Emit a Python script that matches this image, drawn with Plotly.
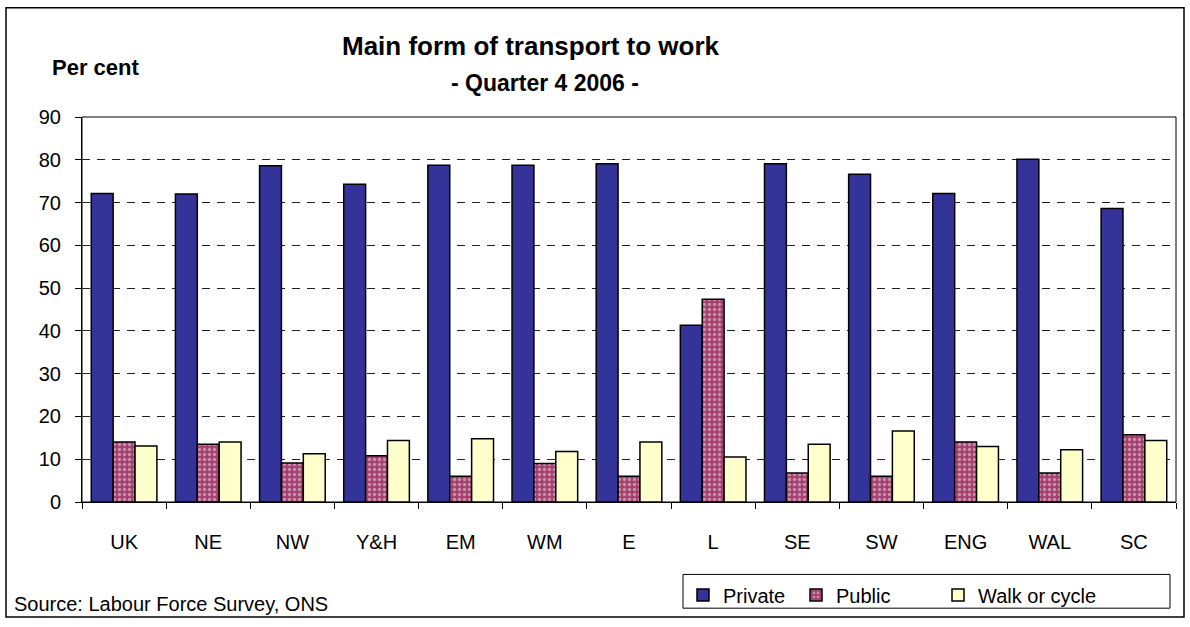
import plotly.graph_objects as go

# Main form of transport to work by region, Q4 2006 (per cent)
regions = ["UK", "NE", "NW", "Y&H", "EM", "WM", "E", "L", "SE", "SW", "ENG", "WAL", "SC"]
private = [72.1, 72.0, 78.6, 74.3, 78.7, 78.7, 79.1, 41.3, 79.1, 76.6, 72.1, 80.1, 68.6]
public = [14.0, 13.5, 9.1, 10.8, 6.0, 9.0, 6.0, 47.4, 6.8, 6.0, 14.0, 6.8, 15.7]
walk_cycle = [13.1, 14.0, 11.3, 14.4, 14.8, 11.8, 14.0, 10.5, 13.5, 16.6, 13.0, 12.2, 14.4]

FONT = "Liberation Sans, Arial, sans-serif"
W, H = 1190, 627
L, R, T, B = 82, 14, 117, 122
PW, PH = W - L - R, H - T - B


def px_x(x):
    return (x - L) / PW


def px_y(y):
    return (H - B - y) / PH


outline = dict(color="black", width=1.5)

fig = go.Figure()
fig.add_trace(go.Bar(
    name="Private", x=regions, y=private, legend="legend",
    marker=dict(color="#333399", line=outline),
))
fig.add_trace(go.Bar(
    name="Public", x=regions, y=public, legend="legend2",
    marker=dict(color="#993366", line=outline,
                pattern=dict(shape=".", fgcolor="#f4dce8", bgcolor="#a3416f",
                             size=5, solidity=0.35)),
))
fig.add_trace(go.Bar(
    name="Walk or cycle", x=regions, y=walk_cycle, legend="legend3",
    marker=dict(color="#FFFFCC", line=outline),
))


def legend_at(x_left):
    return dict(
        orientation="h", x=px_x(x_left), y=px_y(579),
        xanchor="left", yanchor="top",
        borderwidth=0, bgcolor="rgba(0,0,0,0)",
        font=dict(size=20), itemwidth=30,
    )


fig.update_layout(
    width=W, height=H,
    margin=dict(l=L, r=R, t=T, b=B),
    paper_bgcolor="white", plot_bgcolor="white",
    font=dict(family=FONT, color="black", size=19),
    barmode="group", bargap=0.22, bargroupgap=0,
    showlegend=True,
    legend=legend_at(683),
    legend2=legend_at(796),
    legend3=legend_at(938),
    xaxis=dict(
        showline=True, linecolor="black", linewidth=1,
        ticks="outside", tickson="boundaries", ticklen=6, tickcolor="black",
        tickfont=dict(size=20), ticklabelstandoff=22,
        showgrid=False,
    ),
    yaxis=dict(
        range=[0, 90], dtick=10,
        showline=True, linecolor="black", linewidth=1,
        ticks="outside", ticklen=6, tickcolor="black",
        tickfont=dict(size=20), ticklabelstandoff=10,
        showgrid=True, gridcolor="#222222", gridwidth=1, griddash="8px,7px",
        zeroline=False,
    ),
    shapes=[
        # plot-area frame
        dict(type="rect", xref="paper", yref="paper", x0=0, x1=1, y0=0, y1=1,
             line=dict(color="black", width=1), layer="below"),
        # outer chart frame
        dict(type="rect", xref="paper", yref="paper",
             x0=px_x(6), x1=px_x(1184), y0=px_y(621), y1=px_y(7),
             line=dict(color="black", width=1.5)),
        # legend frame
        dict(type="rect", xref="paper", yref="paper",
             x0=px_x(683), x1=px_x(1170), y0=px_y(612), y1=px_y(578),
             line=dict(color="black", width=1), layer="below"),
    ],
    annotations=[
        dict(text="<b>Main form of transport to work</b>", xref="paper", yref="paper",
             x=px_x(531), y=px_y(45), xanchor="center", yanchor="middle",
             showarrow=False, font=dict(size=26)),
        dict(text="<b>- Quarter 4 2006 -</b>", xref="paper", yref="paper",
             x=px_x(545), y=px_y(83), xanchor="center", yanchor="middle",
             showarrow=False, font=dict(size=23)),
        dict(text="<b>Per cent</b>", xref="paper", yref="paper",
             x=px_x(50), y=px_y(67), xanchor="left", yanchor="middle",
             showarrow=False, font=dict(size=22)),
        dict(text="Source: Labour Force Survey, ONS", xref="paper", yref="paper",
             x=px_x(12), y=px_y(608), xanchor="left", yanchor="middle",
             showarrow=False, font=dict(size=20)),
    ],
)

fig.write_html("out.html")
